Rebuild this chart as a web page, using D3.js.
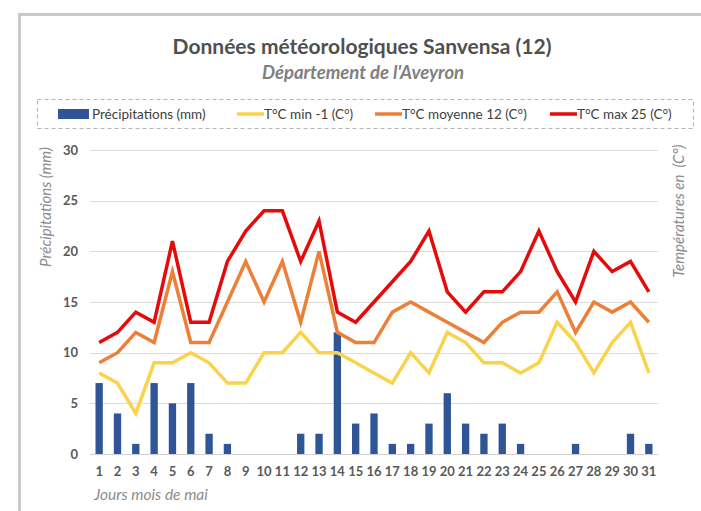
<!DOCTYPE html>
<html>
<head>
<meta charset="utf-8">
<script src="https://cdn.jsdelivr.net/npm/d3@7"></script>
<style>
  body { margin: 0; background: #fff; }
  svg { display: block; font-family: Lato, "Open Sans", sans-serif; }
</style>
</head>
<body>
<svg id="chart" width="701" height="511"></svg>
<script>
const days = d3.range(1, 32).map(String);
const precip = [7, 4, 1, 7, 5, 7, 2, 1, 0, 0, 0, 2, 2, 12, 3, 4, 1, 1, 3, 6, 3, 2, 3, 1, 0, 0, 1, 0, 0, 2, 1];
const tMin = [8, 7, 4, 9, 9, 10, 9, 7, 7, 10, 10, 12, 10, 10, 9, 8, 7, 10, 8, 12, 11, 9, 9, 8, 9, 13, 11, 8, 11, 13, 8];
const tMoy = [9, 10, 12, 11, 18, 11, 11, 15, 19, 15, 19, 13, 20, 12, 11, 11, 14, 15, 14, 13, 12, 11, 13, 14, 14, 16, 12, 15, 14, 15, 13];
const tMax = [11, 12, 14, 13, 21, 13, 13, 19, 22, 24, 24, 19, 23, 14, 13, 15, 17, 19, 22, 16, 14, 16, 16, 18, 22, 18, 15, 20, 18, 19, 16];
const yTicks = [0, 5, 10, 15, 20, 25, 30];

const series = [
    { name: 'T°C min -1 (C°)', values: tMin, color: '#f9d34c' },
    { name: 'T°C moyenne 12 (C°)', values: tMoy, color: '#ec8038' },
    { name: 'T°C max 25 (C°)', values: tMax, color: '#e50b0b' }
];

const svg = d3.select('#chart');

// outer frame (cut by the window on right and bottom)
svg.append('rect')
    .attr('x', 19.5).attr('y', 14.5)
    .attr('width', 720).attr('height', 520)
    .attr('fill', 'none')
    .attr('stroke', '#c9c9c9')
    .attr('stroke-width', 3);

// titles
svg.append('text')
    .attr('x', 362).attr('y', 54)
    .attr('text-anchor', 'middle')
    .style('font-size', '21px').style('font-weight', 'bold')
    .style('fill', '#505050')
    .text('Données météorologiques Sanvensa (12)');

svg.append('text')
    .attr('x', 363).attr('y', 79)
    .attr('text-anchor', 'middle')
    .style('font-size', '18.5px').style('font-weight', 'bold').style('font-style', 'italic')
    .style('fill', '#808080')
    .text("Département de l'Aveyron");

// legend
svg.append('rect')
    .attr('x', 37.5).attr('y', 99.5)
    .attr('width', 656).attr('height', 29)
    .attr('fill', 'none')
    .attr('stroke', '#b4b4b4')
    .attr('stroke-dasharray', '4,3');

const legend = svg.append('g').style('font-size', '13.5px').style('fill', '#404040');
legend.append('rect').attr('x', 58).attr('y', 109).attr('width', 31).attr('height', 10).attr('fill', '#2f5597');
legend.append('text').attr('x', 92).attr('y', 119).text('Précipitations (mm)');
const legX = [237, 375, 550];
series.forEach((s, i) => {
    legend.append('line')
        .attr('x1', legX[i]).attr('x2', legX[i] + 27)
        .attr('y1', 114).attr('y2', 114)
        .attr('stroke', s.color).attr('stroke-width', 3.5);
    legend.append('text').attr('x', legX[i] + 27).attr('y', 119).text(s.name);
});

// scales
const x = d3.scaleBand().domain(days).range([90, 658]).paddingInner(0.6).paddingOuter(0.3);
const y = d3.scaleLinear().domain([0, 30]).range([454, 150]);

// grid
svg.append('g')
    .selectAll('line')
    .data(yTicks)
    .join('line')
    .attr('x1', 90).attr('x2', 658)
    .attr('y1', d => Math.round(y(d)) + 0.5).attr('y2', d => Math.round(y(d)) + 0.5)
    .attr('stroke', d => d === 0 ? '#d0d0d0' : '#dcdcdc')
    .attr('stroke-width', 1);

// left axis
const yAxis = svg.append('g')
    .attr('transform', 'translate(90,0)')
    .call(d3.axisLeft(y).tickValues(yTicks).tickSize(0).tickPadding(12));
yAxis.select('.domain').remove();
yAxis.selectAll('text')
    .style('font-family', 'Lato, sans-serif')
    .style('font-size', '13px').style('font-weight', 'bold')
    .style('fill', '#595959');

// x axis
const xAxis = svg.append('g')
    .attr('transform', 'translate(0,454)')
    .call(d3.axisBottom(x).tickSize(0).tickPadding(13));
xAxis.select('.domain').remove();
xAxis.selectAll('text')
    .style('font-family', 'Lato, sans-serif')
    .style('font-size', '13px').style('font-weight', 'bold')
    .style('fill', '#595959');

// axis titles
svg.append('text')
    .attr('transform', 'translate(51,207) rotate(-90)')
    .attr('text-anchor', 'middle')
    .style('font-size', '15px').style('font-style', 'italic')
    .style('fill', '#8c8c8c')
    .text('Précipitations (mm)');

svg.append('text')
    .attr('transform', 'translate(684,211) rotate(-90)')
    .attr('text-anchor', 'middle')
    .style('font-size', '15px').style('font-style', 'italic')
    .style('fill', '#8c8c8c')
    .style('white-space', 'pre')
    .text('Températures en  (C°)');

svg.append('text')
    .attr('x', 94).attr('y', 500)
    .style('font-size', '15.5px').style('font-style', 'italic')
    .style('fill', '#8c8c8c')
    .text('Jours mois de mai');

// bars
svg.append('g')
    .selectAll('rect')
    .data(precip)
    .join('rect')
    .attr('x', (d, i) => x(days[i]))
    .attr('y', d => y(d))
    .attr('width', x.bandwidth())
    .attr('height', d => y(0) - y(d))
    .attr('fill', '#2f5597');

// lines
const line = d3.line()
    .x((d, i) => x(days[i]) + x.bandwidth() / 2)
    .y(d => y(d));

svg.append('g')
    .selectAll('path')
    .data(series)
    .join('path')
    .attr('d', d => line(d.values))
    .attr('fill', 'none')
    .attr('stroke', d => d.color)
    .attr('stroke-width', 3.5)
    .attr('stroke-linejoin', 'miter');
</script>
</body>
</html>
